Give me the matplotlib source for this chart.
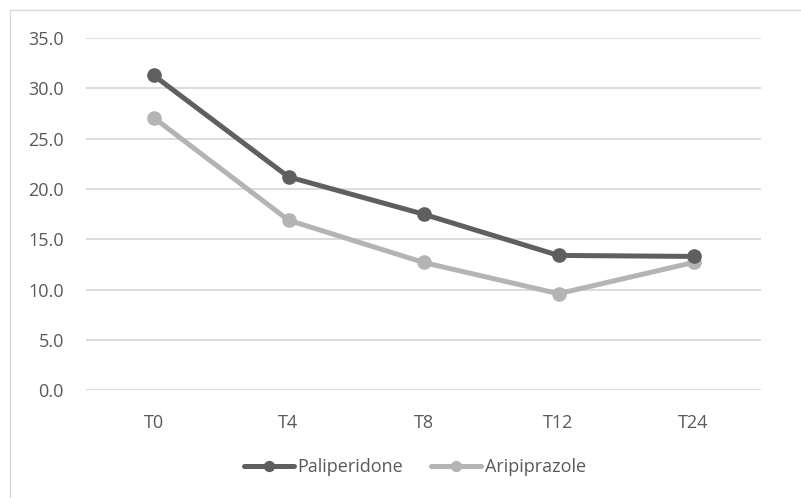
import matplotlib.pyplot as plt
from matplotlib.patches import Rectangle

categories = ['T0', 'T4', 'T8', 'T12', 'T24']
paliperidone = [31.3, 21.2, 17.5, 13.4, 13.3]
aripiprazole = [27.1, 16.9, 12.7, 9.6, 12.7]

plt.rcParams['font.family'] = ['Open Sans', 'DejaVu Sans']

fig = plt.figure(figsize=(8.01, 4.98), dpi=100)
# light chart border like the Excel chart area
fig.patches.append(Rectangle((10/801, -0.01), 1.0, 1 - 10/498 + 0.01, transform=fig.transFigure,
                             fill=False, edgecolor='#d9d9d9', linewidth=1))

ax = fig.add_axes([86/801, 1 - 390.3/498, (761 - 86)/801, (390.3 - 38)/498])

x = list(range(len(categories)))
ax.plot(x, paliperidone, color='#5f5f5f', linewidth=3.6, marker='o', markersize=9.5,
        label='Paliperidone', solid_capstyle='round', zorder=3)
ax.plot(x, aripiprazole, color='#b4b4b4', linewidth=3.6, marker='o', markersize=9.5,
        label='Aripiprazole', solid_capstyle='round', zorder=2)

ax.set_xlim(-0.5, len(categories) - 0.5)
ax.set_ylim(0, 35)
ax.set_yticks([0, 5, 10, 15, 20, 25, 30, 35])
ax.set_yticklabels(['%.1f' % v for v in [0, 5, 10, 15, 20, 25, 30, 35]])
ax.set_xticks(x)
ax.set_xticklabels(categories)

ax.grid(axis='y', color='#d9d9d9', linewidth=1.3)
ax.set_axisbelow(True)
for s in ax.spines.values():
    s.set_visible(False)
ax.tick_params(length=0, labelsize=13, colors='#595959')
ax.tick_params(axis='y', pad=16)
ax.tick_params(axis='x', pad=17)

leg = ax.legend(loc='center', bbox_to_anchor=(0.487, -0.218), ncol=2, frameon=False,
                fontsize=13, labelcolor='#595959', handlelength=2.8, handletextpad=0.2,
                columnspacing=1.5, markerscale=0.75)

fig.savefig('out.png', dpi=100)
